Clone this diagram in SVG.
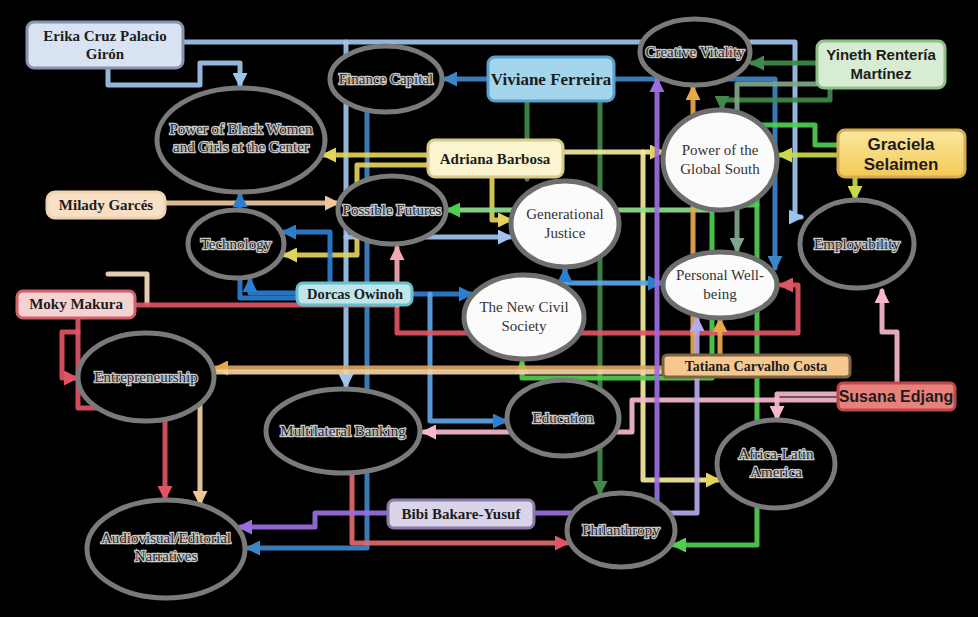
<svg xmlns="http://www.w3.org/2000/svg" width="978" height="617" viewBox="0 0 978 617">
<defs>
<style>
.c{fill:none;stroke-width:5;stroke-linejoin:round;stroke-linecap:round;stroke-opacity:.92}
.ring{fill:#000;stroke:#7a7a7a;stroke-width:5}
.ringw{fill:#fbfbfb;stroke:#6e6e6e;stroke-width:5}
.tt{font-family:"Liberation Serif",serif;font-size:15px;fill:#2a2a2a;stroke:#c9c9c9;stroke-width:2.4;paint-order:stroke;text-anchor:middle}
.tw{font-family:"Liberation Serif",serif;font-size:15px;fill:#333;text-anchor:middle}
.ps{font-family:"Liberation Serif",serif;font-weight:bold;font-size:15px;fill:#1c1c1c;text-anchor:middle}
.pa{font-family:"Liberation Sans",Arial,sans-serif;font-weight:bold;font-size:16px;fill:#1c1c1c;text-anchor:middle}
.box{stroke-width:3}
</style>
<marker id="m-lb" viewBox="0 0 10 10" refX="8" refY="5" markerWidth="3" markerHeight="3" orient="auto"><path d="M0,0L10,5L0,10z" fill="#9fc5ee"/></marker>
<marker id="m-sb" viewBox="0 0 10 10" refX="8" refY="5" markerWidth="3" markerHeight="3" orient="auto"><path d="M0,0L10,5L0,10z" fill="#3d85c6"/></marker>
<marker id="m-dg" viewBox="0 0 10 10" refX="8" refY="5" markerWidth="3" markerHeight="3" orient="auto"><path d="M0,0L10,5L0,10z" fill="#3f8a4a"/></marker>
<marker id="m-gg" viewBox="0 0 10 10" refX="8" refY="5" markerWidth="3" markerHeight="3" orient="auto"><path d="M0,0L10,5L0,10z" fill="#7fa58a"/></marker>
<marker id="m-ye" viewBox="0 0 10 10" refX="8" refY="5" markerWidth="3" markerHeight="3" orient="auto"><path d="M0,0L10,5L0,10z" fill="#e3d35c"/></marker>
<marker id="m-yg" viewBox="0 0 10 10" refX="8" refY="5" markerWidth="3" markerHeight="3" orient="auto"><path d="M0,0L10,5L0,10z" fill="#c9d94a"/></marker>
<marker id="m-gr" viewBox="0 0 10 10" refX="8" refY="5" markerWidth="3" markerHeight="3" orient="auto"><path d="M0,0L10,5L0,10z" fill="#4fcf4f"/></marker>
<marker id="m-pe" viewBox="0 0 10 10" refX="8" refY="5" markerWidth="3" markerHeight="3" orient="auto"><path d="M0,0L10,5L0,10z" fill="#f0c898"/></marker>
<marker id="m-db" viewBox="0 0 10 10" refX="8" refY="5" markerWidth="3" markerHeight="3" orient="auto"><path d="M0,0L10,5L0,10z" fill="#2b7fcf"/></marker>
<marker id="m-rd" viewBox="0 0 10 10" refX="8" refY="5" markerWidth="3" markerHeight="3" orient="auto"><path d="M0,0L10,5L0,10z" fill="#e05566"/></marker>
<marker id="m-lp" viewBox="0 0 10 10" refX="8" refY="5" markerWidth="3" markerHeight="3" orient="auto"><path d="M0,0L10,5L0,10z" fill="#f2a7b3"/></marker>
<marker id="m-sp" viewBox="0 0 10 10" refX="8" refY="5" markerWidth="3" markerHeight="3" orient="auto"><path d="M0,0L10,5L0,10z" fill="#f5b8cc"/></marker>
<marker id="m-ta" viewBox="0 0 10 10" refX="8" refY="5" markerWidth="3" markerHeight="3" orient="auto"><path d="M0,0L10,5L0,10z" fill="#e8a84a"/></marker>
<marker id="m-pu" viewBox="0 0 10 10" refX="8" refY="5" markerWidth="3" markerHeight="3" orient="auto"><path d="M0,0L10,5L0,10z" fill="#9b6ee0"/></marker>
<marker id="m-lv" viewBox="0 0 10 10" refX="8" refY="5" markerWidth="3" markerHeight="3" orient="auto"><path d="M0,0L10,5L0,10z" fill="#b8a8ec"/></marker>
<linearGradient id="gGr" x1="0" y1="0" x2="0" y2="1"><stop offset="0" stop-color="#fbe7a0"/><stop offset="1" stop-color="#f3c955"/></linearGradient>
</defs>
<rect width="978" height="617" fill="#000"/>
<g id="connectors">
<path class="c" stroke="#9fc5ee" marker-end="url(#m-lb)" d="M183,42 H795 V217 H801"/>
<path class="c" stroke="#9fc5ee" marker-end="url(#m-lb)" d="M108,68 V85 H200 V63 H240 V85"/>
<path class="c" stroke="#9fc5ee" marker-end="url(#m-lb)" d="M346,42 V386"/>
<path class="c" stroke="#9fc5ee" marker-end="url(#m-lb)" d="M346,237 H510"/>
<path class="c" stroke="#3d85c6" marker-end="url(#m-sb)" d="M488,79 H445"/>
<path class="c" stroke="#3d85c6" marker-end="url(#m-sb)" d="M614,79 H775 V268"/>
<path class="c" stroke="#3d85c6" marker-end="url(#m-sb)" d="M367,112 V548 H248"/>
<path class="c" stroke="#3f8a4a" marker-end="url(#m-dg)" d="M527,102 V179"/>
<path class="c" stroke="#3f8a4a" marker-end="url(#m-dg)" d="M600,102 V493"/>
<path class="c" stroke="#3f8a4a" marker-end="url(#m-dg)" d="M816,63 H752"/>
<path class="c" stroke="#3f8a4a" marker-end="url(#m-dg)" d="M830,88 V100 H722 V108"/>
<path class="c" stroke="#7fa58a" marker-end="url(#m-gg)" d="M816,84 H737 V250"/>
<path class="c" stroke="#e3d35c" marker-end="url(#m-ye)" d="M428,155 H324"/>
<path class="c" stroke="#e3d35c" marker-end="url(#m-ye)" d="M428,165 H357 V255 H285"/>
<path class="c" stroke="#e3d35c" marker-end="url(#m-ye)" d="M492,177 V220 H510"/>
<path class="c" stroke="#f4ec9c" marker-end="url(#m-ye)" d="M563,152 H662"/>
<path class="c" stroke="#f4ec9c" marker-end="url(#m-ye)" d="M643,152 V480 H718"/>
<path class="c" stroke="#c9d94a" marker-end="url(#m-yg)" d="M838,155 H780"/>
<path class="c" stroke="#c9d94a" marker-end="url(#m-yg)" d="M855,177 V198"/>
<path class="c" stroke="#4fcf4f" marker-end="url(#m-gr)" d="M838,145 H815 V125 H757 V545 H674"/>
<path class="c" stroke="#4fcf4f" marker-end="url(#m-gr)" d="M757,205 H712 V378 H522 V362"/>
<path class="c" stroke="#8fe08f" marker-end="url(#m-gr)" d="M712,210 H448"/>
<path class="c" stroke="#f0c898" marker-end="url(#m-pe)" d="M165,203 H337"/>
<path class="c" stroke="#f6dcc0" d="M108,274 H147 V303"/>
<path class="c" stroke="#2b7fcf" marker-end="url(#m-db)" d="M297,293 H250 V280"/>
<path class="c" stroke="#2b7fcf" marker-end="url(#m-db)" d="M297,298 H240 V195"/>
<path class="c" stroke="#2b7fcf" marker-end="url(#m-db)" d="M330,283 V232 H284"/>
<path class="c" stroke="#2b7fcf" marker-end="url(#m-db)" d="M412,294 H471"/>
<path class="c" stroke="#5aa6e6" marker-end="url(#m-db)" d="M430,294 V421 H505"/>
<path class="c" stroke="#5aa6e6" marker-end="url(#m-db)" d="M545,283 H660"/>
<path class="c" stroke="#5aa6e6" marker-end="url(#m-db)" d="M565,283 V270"/>
<path class="c" stroke="#e05566" marker-end="url(#m-rd)" d="M135,305 H397 V333 H798 V285 H781"/>
<path class="c" stroke="#e05566" marker-end="url(#m-rd)" d="M78,318 V408 H165 V498"/>
<path class="c" stroke="#e05566" marker-end="url(#m-rd)" d="M78,332 H62 V378 H76"/>
<path class="c" stroke="#e06a6a" marker-end="url(#m-rd)" d="M352,474 V543 H567"/>
<path class="c" stroke="#f2a7b3" marker-end="url(#m-lp)" d="M397,305 V248"/>
<path class="c" stroke="#f5b8cc" marker-end="url(#m-sp)" d="M897,383 V332 H882 V291"/>
<path class="c" stroke="#f5b8cc" marker-end="url(#m-sp)" d="M838,394 H777 V418"/>
<path class="c" stroke="#f5b8cc" marker-end="url(#m-sp)" d="M838,400 H632 V432 H424"/>
<path class="c" stroke="#d9a45c" marker-end="url(#m-ta)" d="M663,368 H216"/>
<path class="c" stroke="#f3d3a5" marker-end="url(#m-pe)" d="M663,372 H200 V503"/>
<path class="c" stroke="#e8a84a" marker-end="url(#m-ta)" d="M720,355 V320"/>
<path class="c" stroke="#e8a84a" marker-end="url(#m-ta)" d="M693,355 V88"/>
<path class="c" stroke="#9b6ee0" marker-end="url(#m-pu)" d="M389,513 H315 V527 H240"/>
<path class="c" stroke="#9b6ee0" marker-end="url(#m-pu)" d="M535,513 H657 V80"/>
<path class="c" stroke="#b8a8ec" marker-end="url(#m-lv)" d="M657,513 H697 V319"/>
</g>
<g id="n-finance"><ellipse class="ring" cx="386" cy="79" rx="56" ry="33"/><text class="tt" x="386" y="84">Finance Capital</text></g>
<g id="n-creative"><ellipse class="ring" cx="695" cy="52" rx="55" ry="33"/><text class="tt" x="695" y="57">Creative Vitality</text></g>
<g id="n-blackwomen"><ellipse class="ring" cx="241" cy="140" rx="84" ry="52"/><text class="tt" x="241" y="134">Power of Black Women</text><text class="tt" x="241" y="152">and Girls at the Center</text></g>
<g id="n-globalsouth"><ellipse class="ringw" cx="720" cy="160" rx="57" ry="50"/><text class="tw" x="720" y="155">Power of the</text><text class="tw" x="720" y="174">Global South</text></g>
<g id="n-possible"><ellipse class="ring" cx="392" cy="210" rx="54" ry="34"/><text class="tt" x="392" y="215">Possible Futures</text></g>
<g id="n-generational"><ellipse class="ringw" cx="565" cy="224" rx="54" ry="43"/><text class="tw" x="565" y="219">Generational</text><text class="tw" x="565" y="238">Justice</text></g>
<g id="n-technology"><ellipse class="ring" cx="236" cy="244" rx="48" ry="34"/><text class="tt" x="236" y="249">Technology</text></g>
<g id="n-employability"><ellipse class="ring" cx="857" cy="244" rx="57" ry="44"/><text class="tt" x="857" y="249">Employability</text></g>
<g id="n-wellbeing"><ellipse class="ringw" cx="720" cy="285" rx="57" ry="33"/><text class="tw" x="720" y="280">Personal Well-</text><text class="tw" x="720" y="299">being</text></g>
<g id="n-civil"><ellipse class="ringw" cx="524" cy="317" rx="60" ry="42"/><text class="tw" x="524" y="312">The New Civil</text><text class="tw" x="524" y="331">Society</text></g>
<g id="n-entrepreneurship"><ellipse class="ring" cx="146" cy="377" rx="68" ry="44"/><text class="tt" x="146" y="382">Entrepreneurship</text></g>
<g id="n-education"><ellipse class="ring" cx="563" cy="418" rx="56" ry="38"/><text class="tt" x="563" y="423">Education</text></g>
<g id="n-multilateral"><ellipse class="ring" cx="343" cy="431" rx="77" ry="42"/><text class="tt" x="343" y="436">Multilateral Banking</text></g>
<g id="n-afrolatin"><ellipse class="ring" cx="776" cy="464" rx="59" ry="44"/><text class="tt" x="776" y="459">Africa-Latin</text><text class="tt" x="776" y="477">America</text></g>
<g id="n-audiovisual"><ellipse class="ring" cx="166" cy="549" rx="79" ry="49"/><text class="tt" x="166" y="543">Audiovisual/Editorial</text><text class="tt" x="166" y="561">Narratives</text></g>
<g id="n-philanthropy"><ellipse class="ring" cx="621" cy="530" rx="54" ry="37"/><text class="tt" x="621" y="535">Philanthropy</text></g>
<g id="p-erika"><rect class="box" x="27" y="22" width="156" height="46" rx="7" fill="#d9e3f3" stroke="#8894ad"/><text class="ps" x="105" y="41">Erika Cruz Palacio</text><text class="ps" x="105" y="59">Girón</text></g>
<g id="p-viviane"><rect class="box" x="488" y="57" width="126" height="44" rx="7" fill="#a3d6ec" stroke="#5a9fca"/><text class="ps" x="551" y="85" style="font-size:17px">Viviane Ferreira</text></g>
<g id="p-yineth"><rect class="box" x="817" y="41" width="128" height="47" rx="7" fill="#d8ecd3" stroke="#8fbf88"/><text class="pa" x="881" y="60" style="font-size:15px">Yineth Rentería</text><text class="pa" x="881" y="79" style="font-size:15px">Martínez</text></g>
<g id="p-adriana"><rect class="box" x="428" y="140" width="135" height="37" rx="7" fill="#fbf5cf" stroke="#d8ca8c"/><text class="ps" x="495" y="164">Adriana Barbosa</text></g>
<g id="p-graciela"><rect class="box" x="838" y="130" width="127" height="47" rx="7" fill="url(#gGr)" stroke="#d4ab50"/><text class="pa" x="901" y="150" style="font-size:17px">Graciela</text><text class="pa" x="901" y="170" style="font-size:17px">Selaimen</text></g>
<g id="p-milady"><rect class="box" x="47" y="192" width="118" height="26" rx="8" fill="#f8e0c6" stroke="#f0d2b0"/><text class="ps" x="106" y="210">Milady Garcés</text></g>
<g id="p-dorcas"><rect class="box" x="297" y="283" width="115" height="22" rx="6" fill="#bfe6ea" stroke="#66c0cc"/><text class="ps" x="355" y="299" style="font-size:14.5px">Dorcas Owinoh</text></g>
<g id="p-moky"><rect class="box" x="17" y="291" width="118" height="27" rx="6" fill="#f6d3d3" stroke="#d0606a"/><text class="ps" x="76" y="309">Moky Makura</text></g>
<g id="p-tatiana"><rect class="box" x="663" y="355" width="187" height="22" rx="4" fill="#f7c88e" stroke="#7d6446"/><text class="ps" x="756" y="371" style="font-size:14px">Tatiana Carvalho Costa</text></g>
<g id="p-susana"><rect class="box" x="838" y="383" width="117" height="27" rx="5" fill="#e8807c" stroke="#c04848"/><text class="pa" x="896" y="402">Susana Edjang</text></g>
<g id="p-bibi"><rect class="box" x="388" y="500" width="146" height="28" rx="6" fill="#dad4ea" stroke="#8a7aa8"/><text class="ps" x="461" y="519">Bibi Bakare-Yusuf</text></g>
</svg>
